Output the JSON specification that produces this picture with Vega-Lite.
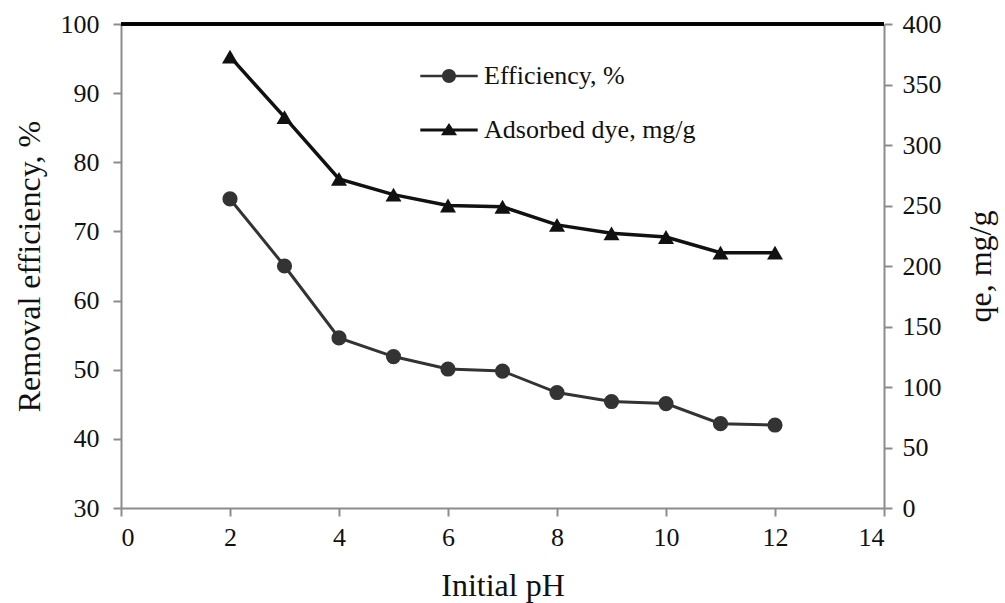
{
  "$schema": "https://vega.github.io/schema/vega-lite/v6.json",
  "width": 763,
  "height": 484,
  "autosize": {"type": "none"},
  "padding": {"left": 121, "top": 24, "right": 121, "bottom": 95},
  "background": "white",
  "config": {
    "font": "Liberation Serif",
    "view": {"stroke": null},
    "axis": {
      "domainColor": "#8c8c8c",
      "domainWidth": 2,
      "tickColor": "#8c8c8c",
      "tickWidth": 2,
      "tickSize": 8,
      "grid": false,
      "labelFont": "Liberation Serif",
      "labelFontSize": 26,
      "labelColor": "#111111",
      "titleFont": "Liberation Serif",
      "titleFontSize": 32,
      "titleFontWeight": "normal",
      "titleColor": "#111111"
    }
  },
  "data": {
    "values": [
      {"pH": 2, "efficiency": 74.7, "qe": 373},
      {"pH": 3, "efficiency": 65.0, "qe": 323},
      {"pH": 4, "efficiency": 54.6, "qe": 272},
      {"pH": 5, "efficiency": 51.9, "qe": 259},
      {"pH": 6, "efficiency": 50.1, "qe": 250},
      {"pH": 7, "efficiency": 49.8, "qe": 249},
      {"pH": 8, "efficiency": 46.7, "qe": 234},
      {"pH": 9, "efficiency": 45.4, "qe": 227},
      {"pH": 10, "efficiency": 45.1, "qe": 224},
      {"pH": 11, "efficiency": 42.2, "qe": 211},
      {"pH": 12, "efficiency": 42.0, "qe": 211}
    ]
  },
  "layer": [
    {
      "layer": [
        {
          "mark": {"type": "line", "color": "#333333", "strokeWidth": 3},
          "encoding": {
            "x": {"field": "pH", "type": "quantitative", "scale": {"domain": [0, 14], "nice": false}, "axis": {"values": [0, 2, 4, 6, 8, 10, 12, 14], "format": "d", "title": "Initial pH", "labelPadding": 8, "titlePadding": 20}},
            "y": {"field": "efficiency", "type": "quantitative", "scale": {"domain": [30, 100], "nice": false, "zero": false}, "axis": {"orient": "left", "values": [30, 40, 50, 60, 70, 80, 90, 100], "format": "d", "title": "Removal efficiency, %", "labelPadding": 14, "titlePadding": 14}}
          }
        },
        {
          "mark": {"type": "point", "shape": "circle", "filled": true, "opacity": 1, "size": 230},
          "encoding": {
            "x": {"field": "pH", "type": "quantitative"},
            "y": {"field": "efficiency", "type": "quantitative"},
            "color": {"datum": "Efficiency, %", "type": "nominal", "scale": {"domain": ["Efficiency, %", "Adsorbed dye, mg/g"], "range": ["#333333", "#111111"]}, "legend": {
              "title": null,
              "orient": "none",
              "legendX": 315,
              "legendY": 39,
              "padding": 0,
              "labelFont": "Liberation Serif",
              "labelFontSize": 26,
              "labelColor": "#111111",
              "labelOffset": 22,
              "labelLimit": 400,
              "rowPadding": 28,
              "symbolSize": 196,
              "symbolOpacity": 1,
              "encode": {
                "symbols": {
                  "update": {
                    "shape": {"signal": "datum.value === 'Efficiency, %' ? 'M-4.1,-0.19H4.1V0.19H-4.1ZM1,0A1,1 0 1,1 -1,0A1,1 0 1,1 1,0Z' : 'M-4.1,-0.23H4.1V0.23H-4.1ZM0,-1L1.15,0.75L-1.15,0.75Z'"},
                    "size": {"value": 196}
                  }
                }
              }
            }}
          }
        },
        {
          "mark": {"type": "rule", "color": "#000000", "strokeWidth": 2.5},
          "encoding": {"y": {"datum": 100}}
        }
      ]
    },
    {
      "layer": [
        {
          "mark": {"type": "line", "color": "#111111", "strokeWidth": 3.5},
          "encoding": {
            "x": {"field": "pH", "type": "quantitative"},
            "y": {"field": "qe", "type": "quantitative", "scale": {"domain": [0, 400], "nice": false}, "axis": {"orient": "right", "values": [0, 50, 100, 150, 200, 250, 300, 350, 400], "format": "d", "title": "qe, mg/g", "titleAngle": 270, "titleBaseline": "top", "labelPadding": 10, "titlePadding": 24}}
          }
        },
        {
          "mark": {"type": "point", "shape": "triangle-up", "filled": true, "opacity": 1, "size": 256},
          "encoding": {
            "x": {"field": "pH", "type": "quantitative"},
            "y": {"field": "qe", "type": "quantitative"},
            "color": {"datum": "Adsorbed dye, mg/g", "type": "nominal"}
          }
        }
      ]
    }
  ],
  "resolve": {"scale": {"y": "independent"}}
}
